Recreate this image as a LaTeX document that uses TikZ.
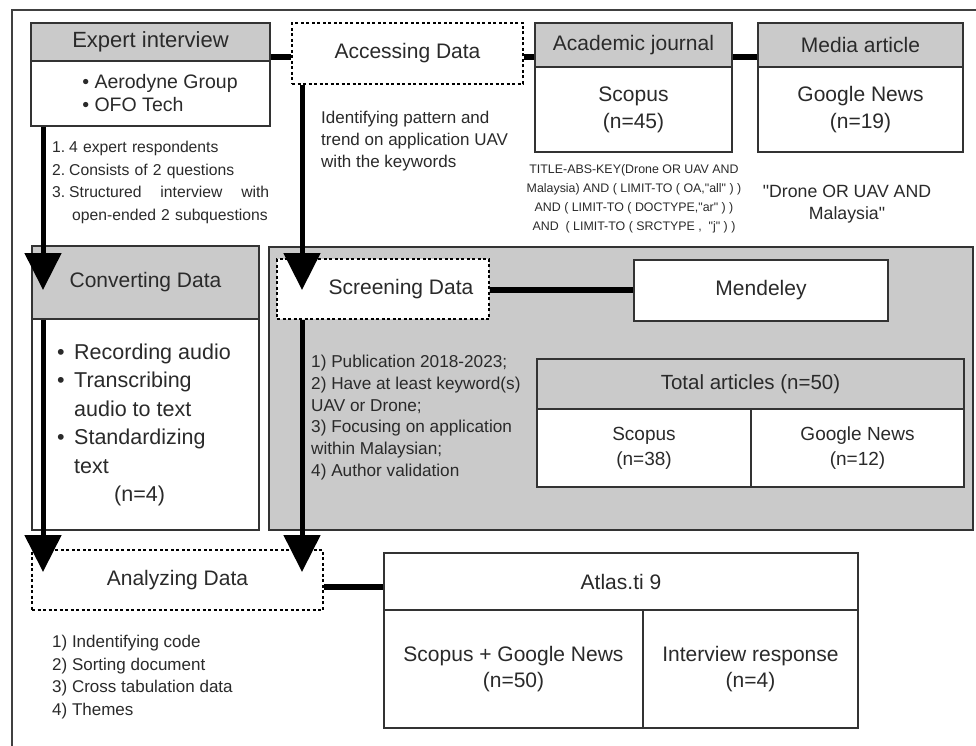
\documentclass[tikz,border=0pt]{standalone}
\usepackage{fontspec}
\setmainfont{Liberation Sans}
\usetikzlibrary{arrows.meta}
\definecolor{hdr}{HTML}{CACACA}
\definecolor{ink}{HTML}{2A2A2A}
\definecolor{edge}{HTML}{333333}
\begin{document}
\begin{tikzpicture}[x=1pt,y=-1pt,
  hbox/.style={draw=edge, line width=1.6pt, fill=hdr, inner sep=0pt, text=ink, align=center},
  wbox/.style={draw=edge, line width=1.6pt, fill=white, inner sep=0pt, text=ink, align=center},
  dbox/.style={draw=black, line width=1.8pt, dash pattern=on 3pt off 2.5pt, fill=white, inner sep=0pt, text=ink, align=center},
  big/.style={font=\fontsize{21}{26}\selectfont},
  cell/.style={font=\fontsize{19}{25}\selectfont},
  note/.style={font=\fontsize{17}{22}\selectfont, text=ink, inner sep=0pt, align=left},
  conn/.style={line width=6pt, black},
  flow/.style={line width=5pt, black, -{Triangle[length=37pt,width=36pt]}},
]
\useasboundingbox (0,0) rectangle (976,746);
\fill[white] (0,0) rectangle (976,746);
\draw[line width=1.6pt, draw=black!75] (12,800) -- (12,10) -- (1000,10);

% top row
\node[hbox, font=\fontsize{22}{26}\selectfont, minimum width=239pt, minimum height=38pt] (exphead) at (150.5,42) {Expert interview};
\node[wbox, minimum width=239pt, minimum height=65pt] (expbody) at (150.5,93.5) {};
\node[note, font=\fontsize{19.5}{23}\selectfont] (expitems) at (160,93) {\textbullet\ Aerodyne Group\\\textbullet\ OFO Tech};

\node[dbox, big, minimum width=231pt, minimum height=61pt] (access) at (407.5,53.5) {Accessing Data};

\node[hbox, big, minimum width=197pt, minimum height=44pt] (acadhead) at (633.5,45) {Academic journal};
\node[wbox, big, minimum width=197pt, minimum height=85pt] (acadbody) at (633.5,109.5) {Scopus\\[1pt](n=45)};

\node[hbox, big, minimum width=205pt, minimum height=44pt] (mediahead) at (860.5,45) {Media article};
\node[wbox, big, minimum width=205pt, minimum height=85pt] (mediabody) at (860.5,109.5) {Google News\\[1pt](n=19)};

\node[note, font=\fontsize{15.7}{22.5}\selectfont, anchor=west, text width=220pt] (explist) at (52,182.5)
 {\makebox[17pt][l]{1.}4 expert respondents\\
  \makebox[17pt][l]{2.}Consists of 2 questions\\
  \makebox[17pt][l]{3.}\makebox[200pt][l]{Structured\hfill interview\hfill with}\\
  \hspace*{20pt}open-ended 2 subquestions};

\node[note, font=\fontsize{17}{22}\selectfont, anchor=west] (identify) at (321,141)
 {Identifying pattern and\\trend on application UAV\\with the keywords};

\node[note, align=center, font=\fontsize{12.4}{19}\selectfont] (query) at (634,199)
 {TITLE-ABS-KEY(Drone OR UAV AND\\Malaysia) AND ( LIMIT-TO ( OA,\textquotedbl all\textquotedbl\ ) )\\AND ( LIMIT-TO ( DOCTYPE,\textquotedbl ar\textquotedbl\ ) )\\AND~ ( LIMIT-TO ( SRCTYPE ,~ \textquotedbl j\textquotedbl\ ) )};

\node[note, align=center, font=\fontsize{17.7}{22}\selectfont] (newsquery) at (847,204)
 {\textquotedbl Drone OR UAV AND\\Malaysia\textquotedbl};

% middle row
\node[hbox, big, minimum width=227pt, minimum height=73pt] (convhead) at (145.5,282.5) {Converting Data};
\node[wbox, minimum width=227pt, minimum height=211pt] (convbody) at (145.5,424.5) {};
\node[note, font=\fontsize{21.5}{28.5}\selectfont, anchor=west] (convitems) at (57,425)
 {\makebox[17pt][l]{\textbullet}Recording audio\\
  \makebox[17pt][l]{\textbullet}Transcribing\\
  \hspace*{17pt}audio to text\\
  \makebox[17pt][l]{\textbullet}Standardizing\\
  \hspace*{17pt}text\\
  \hspace*{57pt}(n=4)};

\node[draw=edge, line width=1.6pt, fill=hdr, inner sep=0pt, minimum width=704pt, minimum height=283pt] (screenarea) at (621,388.5) {};
\node[dbox, big, minimum width=212pt, minimum height=60pt] (screen) at (383,289) {\hspace*{36pt}Screening Data};
\node[note, font=\fontsize{17.2}{21.8}\selectfont, anchor=west] (criteria) at (311,417.5)
 {1) Publication 2018-2023;\\2) Have at least keyword(s)\\UAV or Drone;\\3) Focusing on application\\within Malaysian;\\4) Author validation};

\node[wbox, big, minimum width=254pt, minimum height=61pt] (mendeley) at (761,290.5) {Mendeley};
\node[hbox, font=\fontsize{20.5}{25}\selectfont, minimum width=427pt, minimum height=50pt] (totalhead) at (750.5,384) {Total articles (n=50)};
\node[wbox, cell, minimum width=214pt, minimum height=78pt] (totscopus) at (644,448) {Scopus\\(n=38)};
\node[wbox, cell, minimum width=213pt, minimum height=78pt] (totnews) at (857.5,448) {Google News\\(n=12)};

% bottom row
\node[dbox, big, minimum width=291pt, minimum height=60pt] (analyze) at (177.5,580) {Analyzing Data};
\node[note, font=\fontsize{17}{22.7}\selectfont, anchor=west] (steps) at (52,677)
 {1) Indentifying code\\2) Sorting document\\3) Cross tabulation data\\4) Themes};

\node[wbox, big, minimum width=474pt, minimum height=57pt] (atlashead) at (621,581.5) {Atlas.ti 9};
\node[wbox, big, minimum width=259pt, minimum height=118pt] (atlasleft) at (513.5,669) {Scopus + Google News\\(n=50)};
\node[wbox, big, minimum width=215pt, minimum height=118pt] (atlasright) at (750.5,669) {Interview response\\(n=4)};

% connectors
\draw[conn] (exphead.east |- 0,57) -- (access.west |- 0,57);
\draw[conn] (access.east |- 0,57) -- (acadhead.west |- 0,57);
\draw[conn] (acadhead.east |- 0,57) -- (mediahead.west |- 0,57);
\draw[conn] (screen.east |- 0,290) -- (mendeley.west |- 0,290);
\draw[conn] (analyze.east |- 0,587) -- (atlashead.west |- 0,587);

\coordinate (tipA) at (43,290);
\coordinate (tipB) at (43,572);
\coordinate (tipC) at (302,290);
\coordinate (tipD) at (302,572);
\draw[flow] (expbody.south -| tipA) -- (tipA);
\draw[flow] (convhead.south -| tipB) -- (tipB);
\draw[flow] (access.south -| tipC) -- (tipC);
\draw[flow] (screen.south -| tipD) -- (tipD);
\end{tikzpicture}
\end{document}
